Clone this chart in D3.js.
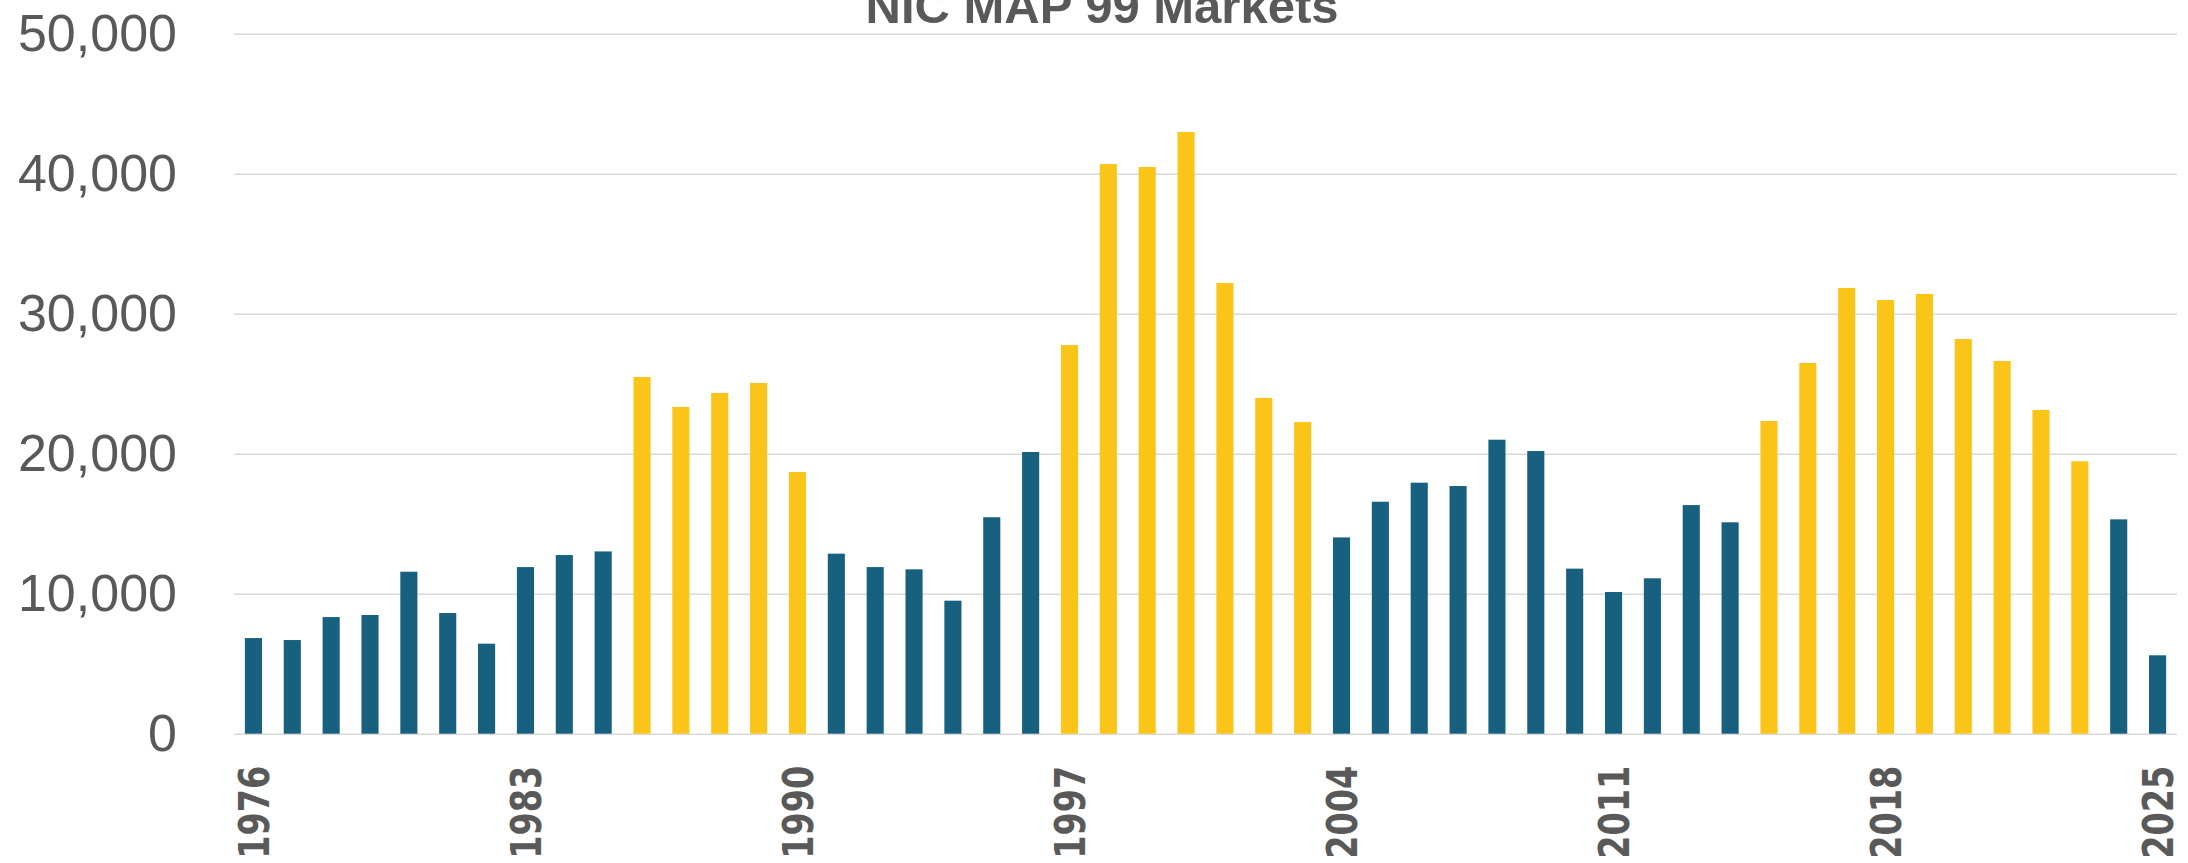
<!DOCTYPE html>
<html lang="en">
<head>
    <meta charset="UTF-8">
    <title>NIC MAP 99 Markets</title>
    <script src="https://cdn.jsdelivr.net/npm/d3@7"></script>
    <style>
        body { margin: 0; background: #fff; }
    </style>
</head>
<body>
<script>
    var years = ['1976', '1977', '1978', '1979', '1980', '1981', '1982', '1983', '1984', '1985',
        '1986', '1987', '1988', '1989', '1990', '1991', '1992', '1993', '1994', '1995',
        '1996', '1997', '1998', '1999', '2000', '2001', '2002', '2003', '2004', '2005',
        '2006', '2007', '2008', '2009', '2010', '2011', '2012', '2013', '2014', '2015',
        '2016', '2017', '2018', '2019', '2020', '2021', '2022', '2023', '2024', '2025']

    var values = [6830, 6690, 8330, 8480, 11570, 8620, 6430, 11900, 12760, 13020,
        25480, 23340, 24340, 25050, 18690, 12860, 11900, 11740, 9500, 15460,
        20120, 27760, 40690, 40480, 42980, 32190, 23980, 22260, 14020, 16570,
        17930, 17690, 21000, 20190, 11790, 10120, 11100, 16330, 15100, 22340,
        26480, 31840, 30980, 31410, 28190, 26620, 23120, 19460, 15310, 5600]

    // 1 = boom years (yellow), 0 = other years (blue)
    var boom = [0, 0, 0, 0, 0, 0, 0, 0, 0, 0,
        1, 1, 1, 1, 1, 0, 0, 0, 0, 0,
        0, 1, 1, 1, 1, 1, 1, 1, 0, 0,
        0, 0, 0, 0, 0, 0, 0, 0, 0, 1,
        1, 1, 1, 1, 1, 1, 1, 1, 0, 0]

    var xTicks = ['1976', '1983', '1990', '1997', '2004', '2011', '2018', '2025']
    var yTicks = [0, 10000, 20000, 30000, 40000, 50000]

    var width = 2188
    var height = 863
    var plotLeft = 234, plotRight = 2177
    var plotTop = 33.7, plotBottom = 733.7
    var grey = '#595959'

    var svg = d3.select('body')
        .append('svg')
        .attr('width', width)
        .attr('height', height)

    var x = d3.scaleBand()
        .domain(years)
        .range([plotLeft, plotRight])
        .paddingInner(0.56)
        .paddingOuter(0.28)

    var y = d3.scaleLinear()
        .domain([0, 50000])
        .range([plotBottom, plotTop])

    // y axis + gridlines
    var yAxis = svg.append('g')
        .attr('transform', 'translate(' + plotLeft + ',0)')
        .call(d3.axisLeft(y)
            .tickValues(yTicks)
            .tickSizeInner(-(plotRight - plotLeft))
            .tickSizeOuter(0)
            .tickPadding(57)
            .tickFormat(d3.format(',')))
    yAxis.select('.domain').remove()
    yAxis.selectAll('line')
        .attr('stroke', '#d9d9d9')
        .attr('stroke-width', 1.6)
    yAxis.selectAll('text')
        .attr('fill', grey)
        .attr('font-family', '"Liberation Sans", Arial, sans-serif')
        .attr('font-size', 52)

    // bars
    svg.append('g')
        .selectAll('rect')
        .data(values)
        .enter()
        .append('rect')
        .attr('x', function (d, i) { return x(years[i]) })
        .attr('width', x.bandwidth())
        .attr('y', function (d) { return y(d) })
        .attr('height', function (d) { return y(0) - y(d) })
        .attr('fill', function (d, i) { return boom[i] ? '#fac418' : '#17607f' })

    // x axis labels
    var xAxis = svg.append('g')
        .attr('transform', 'translate(0,' + plotBottom + ')')
        .call(d3.axisBottom(x).tickValues(xTicks).tickSize(0))
    xAxis.select('.domain').remove()
    xAxis.selectAll('text')
        .attr('transform', 'rotate(-90)')
        .attr('text-anchor', 'end')
        .attr('x', -32)
        .attr('y', 0)
        .attr('dy', '0.36em')
        .attr('fill', grey)
        .attr('font-family', '"DejaVu Sans", Verdana, sans-serif')
        .attr('font-weight', 'bold')
        .attr('font-size', 43)
        .attr('textLength', 93)
        .attr('lengthAdjust', 'spacingAndGlyphs')

    // title (cut off at the top like the source)
    svg.append('text')
        .attr('x', 1102)
        .attr('y', 23)
        .attr('text-anchor', 'middle')
        .attr('fill', grey)
        .attr('font-family', '"Liberation Sans", Arial, sans-serif')
        .attr('font-weight', 'bold')
        .attr('font-size', 49)
        .text('NIC MAP 99 Markets')
</script>
</body>
</html>
